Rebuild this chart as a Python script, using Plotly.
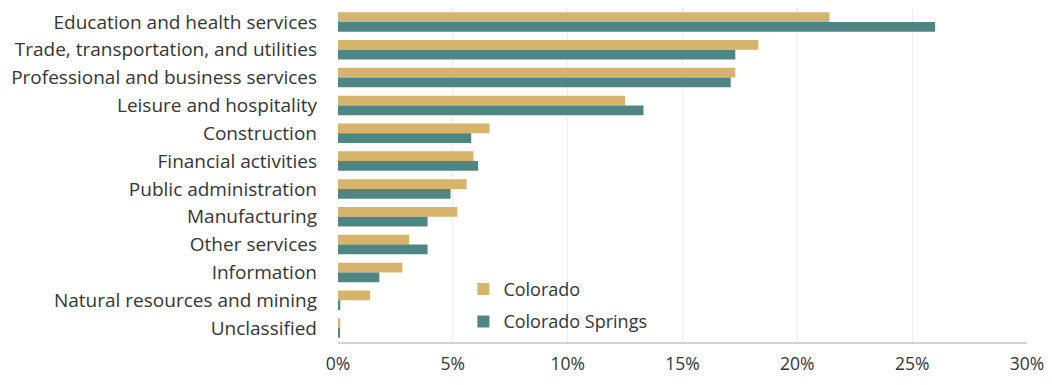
import plotly.graph_objects as go

# Industry employment shares (percent of total employment)
industries = [
    "Education and health services",
    "Trade, transportation, and utilities",
    "Professional and business services",
    "Leisure and hospitality",
    "Construction",
    "Financial activities",
    "Public administration",
    "Manufacturing",
    "Other services",
    "Information",
    "Natural resources and mining",
    "Unclassified",
]
colorado = [21.4, 18.3, 17.3, 12.5, 6.6, 5.9, 5.6, 5.2, 3.1, 2.8, 1.4, 0.1]
colorado_springs = [26.0, 17.3, 17.1, 13.3, 5.8, 6.1, 4.9, 3.9, 3.9, 1.8, 0.1, 0.05]

tick_vals = [0, 5, 10, 15, 20, 25, 30]
tick_text = ["0%", "5%", "10%", "15%", "20%", "25%", "30%"]

font_family = "Open Sans, Noto Sans, DejaVu Sans, sans-serif"
text_color = "#353535"

fig = go.Figure()
fig.add_trace(go.Bar(
    y=industries, x=colorado, name="Colorado", orientation="h",
    legendgroup="co",
    marker=dict(color="#D6B46C", line=dict(width=0)),
))
fig.add_trace(go.Bar(
    y=industries, x=colorado_springs, name="Colorado Springs", orientation="h",
    legendgroup="cs",
    marker=dict(color="#4F8684", line=dict(width=0)),
))

fig.update_layout(
    width=1052, height=385,
    margin=dict(l=338, r=22, t=8, b=43),
    paper_bgcolor="white", plot_bgcolor="white",
    barmode="group", bargap=0.3, bargroupgap=0.0,
    font=dict(family=font_family, size=18, color=text_color),
    legend=dict(
        x=0.182, y=0.213, xanchor="left", yanchor="top",
        bgcolor="rgba(255,255,255,0)", font=dict(size=18, color=text_color),
        itemwidth=30, tracegroupgap=6,
    ),
    xaxis=dict(
        range=[0, 30], tickvals=tick_vals, ticktext=tick_text,
        showgrid=True, gridcolor="#EDEDED", gridwidth=1,
        zeroline=False, showline=True, linecolor="#D4D4D4", linewidth=2,
        ticks="", ticklabelstandoff=5,
        tickfont=dict(size=17.5, color=text_color),
    ),
    yaxis=dict(
        autorange="reversed", showgrid=False, zeroline=False, showline=False,
        ticks="", ticklabelstandoff=20,
        tickfont=dict(size=19, color=text_color),
    ),
)

fig.write_html("out.html")
